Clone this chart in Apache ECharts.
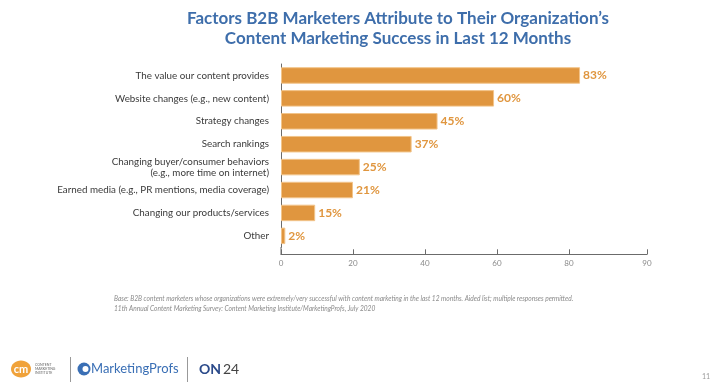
<!DOCTYPE html>
<html>
<head>
<meta charset="utf-8">
<script src="https://cdn.jsdelivr.net/npm/echarts@6/dist/echarts.min.js"></script>
<style>html,body{margin:0;padding:0;background:#fff;}#c{width:716px;height:384px;}</style>
</head>
<body>
<div id="c"></div>
<script>
var categories = [
  'The value our content provides',
  'Website changes (e.g., new content)',
  'Strategy changes',
  'Search rankings',
  'Changing buyer/consumer behaviors\n(e.g., more time on internet)',
  'Earned media (e.g., PR mentions, media coverage)',
  'Changing our products/services',
  'Other'
];
// bar lengths as drawn in the reference
var values = [83.1, 59.2, 43.5, 36.3, 21.9, 20, 9.5, 1.2];
// value labels as printed in the reference
var valueLabels = ['83%', '60%', '45%', '37%', '25%', '21%', '15%', '2%'];
var tickValues = [0, 20, 40, 60, 80, 101.7];
var tickLabels = ['0', '20', '40', '60', '80', '90'];
var titleText = 'Factors B2B Marketers Attribute to Their Organization\u2019s\nContent Marketing Success in Last 12 Months';
var footnotes = [
  'Base: B2B content marketers whose organizations were extremely/very successful with content marketing in the last 12 months. Aided list; multiple responses permitted.',
  '11th Annual Content Marketing Survey: Content Marketing Institute/MarketingProfs, July 2020'
];

var chart = echarts.init(document.getElementById('c'), null, {renderer: 'canvas'});
var barColor = '#E0963F';
chart.setOption({
  backgroundColor: '#ffffff',
  animation: false,
  title: {
    text: titleText,
    left: 393, top: 4, textAlign: 'center',
    textStyle: {fontFamily: 'Lato', fontWeight: 'bold', fontSize: 17, color: '#3E6EAB', lineHeight: 19.5}
  },
  grid: {left: 281, right: 69, top: 64, bottom: 136.7},
  xAxis: {
    type: 'value', min: 0, max: 101.7, offset: 7,
    splitLine: {show: false},
    axisLine: {show: true, lineStyle: {color: '#6b6b6b', width: 1}},
    axisTick: {show: true, inside: true, length: 5, customValues: tickValues, lineStyle: {color: '#6b6b6b'}},
    axisLabel: {
      customValues: tickValues, color: '#8a8a8a', fontSize: 8, fontFamily: 'Lato', margin: 5,
      formatter: function (v) { var i = tickValues.indexOf(v); return i >= 0 ? tickLabels[i] : ''; }
    }
  },
  yAxis: {
    type: 'category', data: categories, inverse: true,
    axisLine: {show: true, lineStyle: {color: '#6b6b6b', width: 1}},
    axisTick: {show: false},
    axisLabel: {color: '#3a3a3a', fontSize: 9.8, fontFamily: 'Lato', margin: 12, lineHeight: 11.5, align: 'right'}
  },
  series: [{
    type: 'bar', data: values, barWidth: 16.5,
    itemStyle: {color: barColor, borderColor: '#F2C48A', borderWidth: 1},
    label: {
      show: true, position: 'right', distance: 3,
      formatter: function (p) { return valueLabels[p.dataIndex]; },
      color: barColor, fontWeight: 'bold', fontSize: 12, fontFamily: 'Lato'
    }
  }],
  graphic: [
    {type: 'line', shape: {x1: 281, y1: 247, x2: 281, y2: 254.5}, style: {stroke: '#6b6b6b', lineWidth: 1}},
    {type: 'text', left: 114, top: 295, style: {text: footnotes[0], fill: '#8a8a8a', font: 'italic 6.6px Lato'}},
    {type: 'text', left: 114, top: 305, style: {text: footnotes[1], fill: '#8a8a8a', font: 'italic 6.6px Lato'}},
    // footer logos
    {type: 'ellipse', shape: {cx: 21, cy: 369, rx: 10, ry: 8.5}, style: {fill: '#F0A23A'}},
    {type: 'text', x: 21, y: 369, style: {text: 'cm', fill: '#fff', font: 'bold 11px Lato', align: 'center', verticalAlign: 'middle'}},
    {type: 'text', x: 35, y: 363, style: {text: 'CONTENT\nMARKETING\nINSTITUTE', fill: '#666', font: '3.5px Lato', lineHeight: 4}},
    {type: 'line', shape: {x1: 70.5, y1: 357, x2: 70.5, y2: 382}, style: {stroke: '#999', lineWidth: 1}},
    {type: 'circle', shape: {cx: 84, cy: 369, r: 6.5}, style: {fill: '#3A6FB5'}},
    {type: 'circle', shape: {cx: 85.5, cy: 369, r: 3}, style: {fill: '#fff'}},
    {type: 'text', x: 91, y: 369, style: {text: 'MarketingProfs', fill: '#3A6FB5', font: '13px Lato', verticalAlign: 'middle'}},
    {type: 'line', shape: {x1: 187.5, y1: 357, x2: 187.5, y2: 382}, style: {stroke: '#999', lineWidth: 1}},
    {type: 'text', x: 199, y: 369, style: {text: 'ON', fill: '#2B4A8A', font: 'bold 14px Lato', verticalAlign: 'middle'}},
    {type: 'text', x: 223, y: 369, style: {text: '24', fill: '#444', font: '14px Lato', verticalAlign: 'middle'}},
    {type: 'text', x: 706, y: 377, style: {text: '11', fill: '#999', font: '7px Lato', align: 'center', verticalAlign: 'middle'}}
  ]
});
</script>
</body>
</html>
